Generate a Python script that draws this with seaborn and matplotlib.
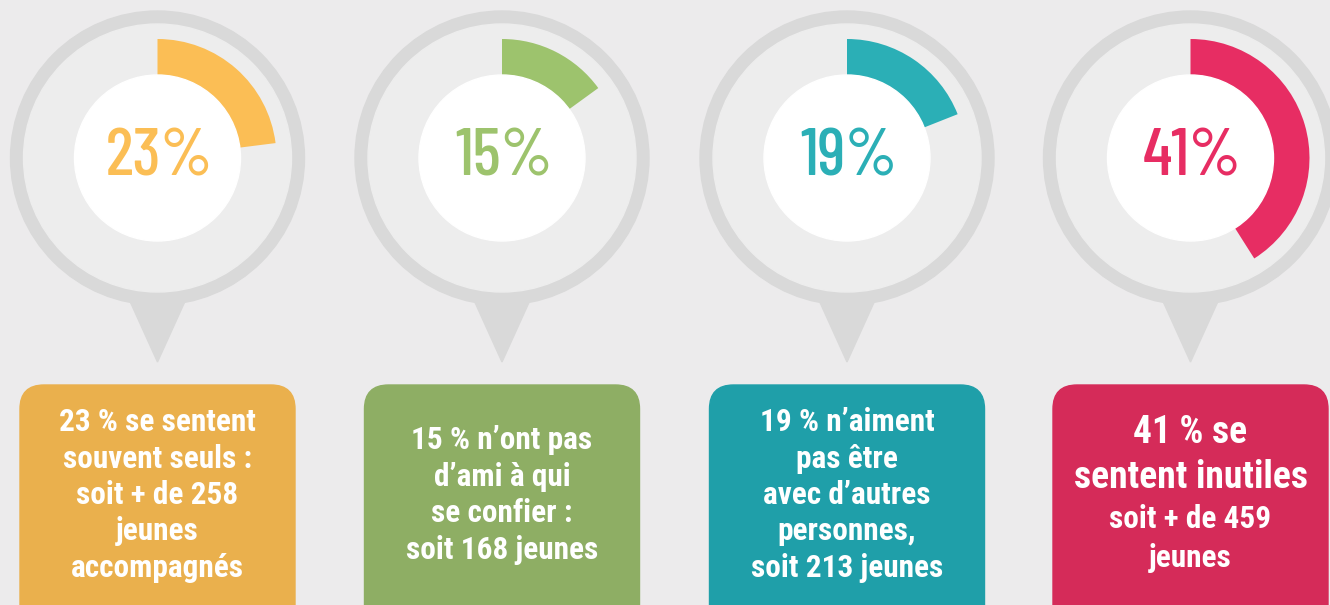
import numpy as np
import seaborn as sns
import matplotlib.pyplot as plt
from matplotlib.patches import Circle, Polygon, FancyBboxPatch

# data
percents = [23, 15, 19, 41]
arc_colors = ['#FBBE55', '#9DC36D', '#2BAFB6', '#E72D63']
box_colors = ['#EAB04D', '#8EAE64', '#1F9FA9', '#D52B59']
box_texts = [
    "23 % se sentent\nsouvent seuls :\nsoit + de 258\njeunes\naccompagnés",
    "15 % n’ont pas\nd’ami à qui\nse confier :\nsoit 168 jeunes",
    "19 % n’aiment\npas être\navec d’autres\npersonnes,\nsoit 213 jeunes",
    None,
]
big_lines = "41 % se\nsentent inutiles"
small_lines = "soit + de 459\njeunes"

W, H = 1330, 605
bg = '#ECEBEC'
ring = '#D9D9D9'

sns.set_style('white')
plt.rcParams['font.family'] = ['Roboto Condensed', 'DejaVu Sans']
pct_font = ['Barlow Condensed', 'DejaVu Sans']

fig = plt.figure(figsize=(W / 100, H / 100), dpi=100, facecolor=bg)
ax = fig.add_axes([0, 0, 1, 1])
ax.set_facecolor(bg)

centers = [157.5, 502, 847, 1190.5]
cy = H - 158

for i, p in enumerate(percents):
    cx = centers[i]
    # pin shape: ring, tail, inner disc
    ax.add_patch(Polygon([(cx - 29, H - 298), (cx + 29, H - 298), (cx, H - 362)],
                         closed=True, color=ring, zorder=1))
    ax.add_patch(Circle((cx, cy), 147, color=ring, zorder=1))
    ax.add_patch(Circle((cx, cy), 134, color='#EDEDED', zorder=2))
    ax.pie([p, 100 - p], colors=[arc_colors[i], (0, 0, 0, 0)], startangle=90,
           counterclock=False, center=(cx, cy), radius=119,
           wedgeprops=dict(width=38, linewidth=0, zorder=2.5), frame=True)
    ax.add_patch(Circle((cx, cy), 83, color='white', zorder=3))
    ax.text(cx + 2, cy, f"{p}%", ha='center', va='center', fontsize=48,
            family=pct_font, fontweight=500, color=arc_colors[i], zorder=4)

    # text box
    bx = cx - 137.5
    ax.add_patch(FancyBboxPatch((bx, -30), 275, H - 385 + 30,
                                boxstyle='round,pad=0,rounding_size=24',
                                color=box_colors[i], zorder=1))
    if box_texts[i] is not None:
        ax.text(cx, H - 495, box_texts[i], ha='center', va='center', fontsize=22.5,
                fontweight='bold', color='white', linespacing=1.27)

ax.text(centers[3], H - 455, big_lines, ha='center', va='center', fontsize=27,
        fontweight='bold', color='white', linespacing=1.25)
ax.text(centers[3], H - 538.5, small_lines, ha='center', va='center', fontsize=22.5,
        fontweight='bold', color='white', linespacing=1.34)

ax.set_xlim(0, W)
ax.set_ylim(0, H)
ax.set_aspect('auto')
ax.axis('off')

fig.savefig('out.png', dpi=100, facecolor=bg)
